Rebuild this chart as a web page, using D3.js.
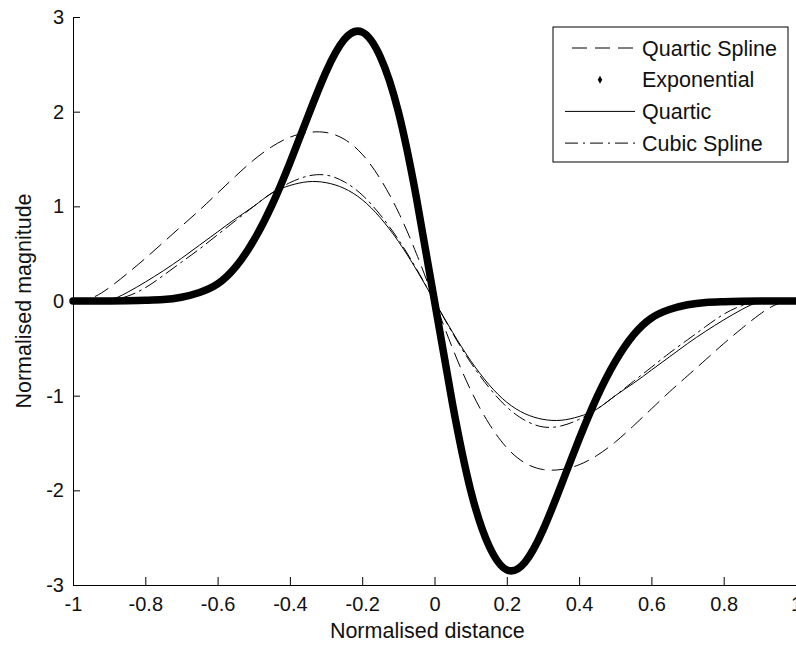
<!DOCTYPE html>
<html>
<head>
<meta charset="utf-8">
<script src="https://cdn.jsdelivr.net/npm/d3@7"></script>
<style>
  body { margin: 0; background: #fff; }
  text { font-family: "Liberation Sans", Arial, sans-serif; fill: #111; }
  .axis path, .axis line { stroke: #000; }
</style>
</head>
<body>
<div id="chart"></div>
<script>
// sample positions along the normalised distance
const xValues = [-1, -0.95, -0.9, -0.85, -0.8, -0.75, -0.7, -0.65, -0.6, -0.55, -0.5,
  -0.45, -0.4, -0.35, -0.3, -0.25, -0.2, -0.15, -0.1, -0.05, 0,
  0.05, 0.1, 0.15, 0.2, 0.25, 0.3, 0.35, 0.4, 0.45, 0.5,
  0.55, 0.6, 0.65, 0.7, 0.75, 0.8, 0.85, 0.9, 0.95, 1];

// values
const quarticSpline = [0, 0.03, 0.14, 0.29, 0.45, 0.62, 0.79, 0.96, 1.14, 1.32, 1.49,
  1.63, 1.73, 1.78, 1.78, 1.71, 1.55, 1.29, 0.94, 0.5, 0,
  -0.5, -0.94, -1.29, -1.55, -1.71, -1.78, -1.78, -1.73, -1.63, -1.49,
  -1.32, -1.14, -0.96, -0.79, -0.62, -0.45, -0.29, -0.14, -0.03, 0];

const exponential = [0, 0, 0.001, 0.003, 0.008, 0.015, 0.04, 0.09, 0.18, 0.36, 0.64,
  1.01, 1.46, 1.95, 2.42, 2.76, 2.84, 2.58, 2.0, 1.09, 0,
  -1.09, -2.0, -2.58, -2.84, -2.76, -2.42, -1.95, -1.46, -1.01, -0.64,
  -0.36, -0.18, -0.09, -0.04, -0.015, -0.008, -0.003, -0.001, 0, 0];

const quartic = [0, 0, 0.01, 0.09, 0.2, 0.32, 0.45, 0.59, 0.73, 0.87, 1.0,
  1.14, 1.22, 1.26, 1.25, 1.19, 1.07, 0.88, 0.63, 0.33, 0,
  -0.33, -0.63, -0.88, -1.07, -1.19, -1.25, -1.26, -1.22, -1.14, -1.0,
  -0.87, -0.73, -0.59, -0.45, -0.32, -0.2, -0.09, -0.01, 0, 0];

const cubicSpline = [0, 0, 0.01, 0.05, 0.14, 0.27, 0.41, 0.55, 0.7, 0.85, 1.0,
  1.14, 1.25, 1.32, 1.33, 1.26, 1.12, 0.91, 0.65, 0.34, 0,
  -0.34, -0.65, -0.91, -1.12, -1.26, -1.33, -1.32, -1.25, -1.14, -1.0,
  -0.85, -0.7, -0.55, -0.41, -0.27, -0.14, -0.05, -0.01, 0, 0];

const seriesNames = ["Quartic Spline", "Exponential", "Quartic", "Cubic Spline"];
const xTicks = [-1, -0.8, -0.6, -0.4, -0.2, 0, 0.2, 0.4, 0.6, 0.8, 1];
const yTicks = [-3, -2, -1, 0, 1, 2, 3];

class KernelVis {
  constructor(_parentElement) {
    this.parentElement = _parentElement;
    this.series = [
      { name: seriesNames[0], values: quarticSpline, width: 1, dash: "15,8" },
      { name: seriesNames[1], values: exponential, width: 7.5, dash: null },
      { name: seriesNames[2], values: quartic, width: 1, dash: null },
      { name: seriesNames[3], values: cubicSpline, width: 1, dash: "13,5,2,5" },
    ];
    this.initVis();
  }

  initVis() {
    let vis = this;

    vis.margin = { top: 17, right: 0, bottom: 60, left: 73 };
    vis.width = 796 - vis.margin.left - vis.margin.right;
    vis.height = 568;

    vis.svg = d3
      .select("#" + vis.parentElement)
      .append("svg")
      .attr("width", 796)
      .attr("height", 645)
      .append("g")
      .attr("transform", "translate(" + vis.margin.left + "," + vis.margin.top + ")");

    // Scales
    vis.x = d3.scaleLinear().domain([-1, 1]).range([0, vis.width]);
    vis.y = d3.scaleLinear().domain([-3, 3]).range([vis.height, 0]);

    // Axes, ticks point inward like matlab, plain hyphen for negatives
    vis.xAxis = d3.axisBottom(vis.x).tickValues(xTicks).tickSize(-8).tickSizeOuter(0)
      .tickPadding(12).tickFormat((d) => String(d));
    vis.yAxis = d3.axisLeft(vis.y).tickValues(yTicks).tickSize(-7).tickSizeOuter(0)
      .tickPadding(9).tickFormat((d) => String(d));

    vis.svg.append("g")
      .attr("class", "x-axis axis")
      .attr("transform", "translate(0," + vis.height + ")")
      .call(vis.xAxis);

    vis.svg.append("g")
      .attr("class", "y-axis axis")
      .call(vis.yAxis);

    vis.svg.selectAll(".axis text")
      .style("font-size", "20px")
      .style("font-family", "'Liberation Sans', Arial, sans-serif")
      .attr("fill", "#111");

    // Axis titles
    vis.svg.append("text")
      .attr("x", vis.x(-0.02))
      .attr("y", 638 - vis.margin.top)
      .attr("text-anchor", "middle")
      .style("font-size", "21.5px")
      .text("Normalised distance");

    vis.svg.append("text")
      .attr("transform", "translate(" + (31 - vis.margin.left) + "," + vis.y(0) + ") rotate(-90)")
      .attr("text-anchor", "middle")
      .style("font-size", "21.5px")
      .text("Normalised magnitude");

    vis.updateVis();
  }

  updateVis() {
    let vis = this;

    vis.line = d3.line()
      .x((d, i) => vis.x(xValues[i]))
      .y((d) => vis.y(d))
      .curve(d3.curveNatural);

    vis.svg.selectAll(".series")
      .data(vis.series)
      .join("path")
      .attr("class", "series")
      .attr("d", (d) => vis.line(d.values))
      .attr("fill", "none")
      .attr("stroke", "#000")
      .attr("stroke-width", (d) => d.width)
      .attr("stroke-linejoin", "round")
      .attr("stroke-linecap", "round")
      .attr("stroke-dasharray", (d) => d.dash);

    // Legend
    let lx = 553 - vis.margin.left;
    let ly = 27 - vis.margin.top;
    vis.legend = vis.svg.append("g").attr("class", "legend")
      .attr("transform", "translate(" + lx + "," + ly + ")");

    vis.legend.append("rect")
      .attr("width", 235)
      .attr("height", 135)
      .attr("fill", "#fff")
      .attr("stroke", "#000");

    vis.series.forEach((s, i) => {
      let rowY = 21 + i * 31.7;
      if (s.width > 2) {
        vis.legend.append("path")
          .attr("d", d3.symbol(d3.symbolDiamond, 18)())
          .attr("transform", "translate(47," + rowY + ")")
          .attr("fill", "#000");
      } else {
        vis.legend.append("line")
          .attr("x1", s.dash === "15,8" ? 19 : 12)
          .attr("x2", 82)
          .attr("y1", rowY)
          .attr("y2", rowY)
          .attr("stroke", "#000")
          .attr("stroke-width", 1)
          .attr("stroke-dasharray", s.dash);
      }
      vis.legend.append("text")
        .attr("x", 89)
        .attr("y", rowY)
        .attr("dy", "0.35em")
        .style("font-size", "21.5px")
        .text(s.name);
    });
  }
}

new KernelVis("chart");
</script>
</body>
</html>
